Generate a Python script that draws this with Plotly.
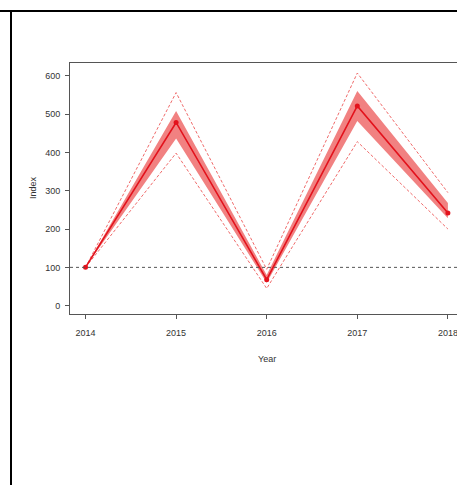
import plotly.graph_objects as go

years = [2014, 2015, 2016, 2017, 2018]
index_vals = [100, 478, 68, 521, 242]
band_lo = [100, 436, 60, 482, 228]
band_hi = [100, 508, 80, 560, 268]
ci_lo = [100, 398, 45, 428, 200]
ci_hi = [100, 556, 95, 607, 295]
x_ticks = [2014, 2015, 2016, 2017, 2018]
y_ticks = [0, 100, 200, 300, 400, 500, 600]

W, H = 472, 485          # figure slightly wider than the 457px window (clipped like the reference)
L, T, R, B = 70, 63, 464, 314  # plot area pixels


def px(xp):
    return (xp - L) / (R - L)


def py(yp):
    return (B - yp) / (B - T)


fig = go.Figure()
fig.add_trace(go.Scatter(x=years, y=band_lo, mode="lines", line=dict(width=0, color="rgba(0,0,0,0)"),
                         showlegend=False, hoverinfo="skip"))
fig.add_trace(go.Scatter(x=years, y=band_hi, mode="lines", line=dict(width=0, color="rgba(0,0,0,0)"),
                         fill="tonexty", fillcolor="rgba(232,45,45,0.6)", showlegend=False, hoverinfo="skip"))
for s in (ci_lo, ci_hi):
    fig.add_trace(go.Scatter(x=years, y=s, mode="lines",
                             line=dict(width=1, color="#f06a6a", dash="3px,2px"), showlegend=False))
fig.add_trace(go.Scatter(x=years, y=index_vals, mode="lines+markers",
                         line=dict(width=1.6, color="#e3121c"),
                         marker=dict(size=5, color="#e3121c"), showlegend=False))

fig.add_shape(type="line", xref="paper", yref="y", x0=0, x1=1, y0=100, y1=100,
              line=dict(color="#555555", width=1, dash="3px,3px"))
# outer page borders
fig.add_shape(type="line", xref="paper", yref="paper", x0=px(0), x1=px(W), y0=py(11), y1=py(11),
              line=dict(color="black", width=2))
fig.add_shape(type="line", xref="paper", yref="paper", x0=px(11), x1=px(11), y0=py(11), y1=py(H + 5),
              line=dict(color="black", width=2))

x0 = 2014 - (85.5 - L) / 90.6
x1 = 2014 + (R - 85.5) / 90.6
ppu = (305.7 - 75.7) / 600
y0 = 0 - (B - 305.7) / ppu
y1 = 600 + (75.7 - T) / ppu

font = dict(family="Liberation Sans, Arial, sans-serif", size=9, color="#333333")
fig.update_layout(
    width=W, height=H, margin=dict(l=L, r=W - R, t=T, b=H - B),
    paper_bgcolor="white", plot_bgcolor="white", font=font,
    xaxis=dict(range=[x0, x1], tickvals=x_ticks, ticktext=[str(v) for v in x_ticks],
               showgrid=False, zeroline=False, showline=True, mirror=True,
               linecolor="#555555", linewidth=1,
               ticks="outside", ticklen=4, tickcolor="#555555", ticklabelstandoff=6),
    yaxis=dict(range=[y0, y1], tickvals=y_ticks, showgrid=False, zeroline=False,
               showline=True, mirror=True, linecolor="#555555", linewidth=1,
               ticks="outside", ticklen=4, tickcolor="#555555", ticklabelstandoff=3),
    annotations=[
        dict(text="Year", xref="paper", yref="paper", x=px(267), y=py(359), showarrow=False,
             xanchor="center", yanchor="middle", font=dict(size=9, color="#333333")),
        dict(text="Index", xref="paper", yref="paper", x=px(33), y=py(188), showarrow=False,
             xanchor="center", yanchor="middle", textangle=-90, font=dict(size=9, color="#333333")),
    ],
)

fig.write_html("out.html", config={"displayModeBar": False},
               post_script="document.body.style.margin='0px';document.body.style.overflow='hidden';")
